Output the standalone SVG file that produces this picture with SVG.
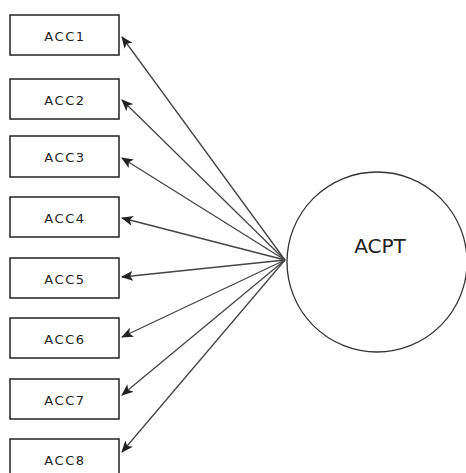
<svg xmlns="http://www.w3.org/2000/svg" width="466" height="473" viewBox="0 0 466 473">
<style>
.box{fill:#fff;stroke:#222;stroke-width:1.5}
.lbl{font-family:"DejaVu Sans",sans-serif;font-size:13px;fill:#222;text-anchor:middle;letter-spacing:1.6px}
.edge{stroke:#444;stroke-width:1.3;fill:none;marker-end:url(#ah)}
</style>
<defs>
<marker id="ah" markerWidth="12" markerHeight="10" refX="11" refY="5" orient="auto" markerUnits="userSpaceOnUse">
<path d="M0,0 L12,5 L0,10 L3,5 Z" fill="#222"/>
</marker>
</defs>
<rect width="466" height="473" fill="#fff"/>
<g id="connectors">
<line class="edge" x1="285" y1="260" x2="122" y2="37"/>
<line class="edge" x1="285" y1="260" x2="122" y2="100"/>
<line class="edge" x1="285" y1="260" x2="122" y2="158"/>
<line class="edge" x1="285" y1="260" x2="122" y2="218"/>
<line class="edge" x1="285" y1="260" x2="122" y2="277"/>
<line class="edge" x1="285" y1="260" x2="122" y2="337"/>
<line class="edge" x1="285" y1="260" x2="122" y2="395"/>
<line class="edge" x1="285" y1="260" x2="122" y2="452"/>
</g>
<g id="ACPT">
<circle cx="377" cy="262" r="90" fill="none" stroke="#333" stroke-width="1.3"/>
<text x="380" y="253" style="font-family:'DejaVu Sans',sans-serif;font-size:20px;fill:#222;text-anchor:middle">ACPT</text>
</g>
<g id="ACC1"><rect class="box" x="10" y="15" width="109" height="40"/><text class="lbl" x="65" y="41">ACC1</text></g>
<g id="ACC2"><rect class="box" x="10" y="79" width="109" height="40"/><text class="lbl" x="65" y="105">ACC2</text></g>
<g id="ACC3"><rect class="box" x="10" y="136" width="109" height="41"/><text class="lbl" x="65" y="162">ACC3</text></g>
<g id="ACC4"><rect class="box" x="10" y="197" width="109" height="40"/><text class="lbl" x="65" y="223">ACC4</text></g>
<g id="ACC5"><rect class="box" x="10" y="258" width="109" height="40"/><text class="lbl" x="65" y="284">ACC5</text></g>
<g id="ACC6"><rect class="box" x="10" y="318" width="109" height="40"/><text class="lbl" x="65" y="344">ACC6</text></g>
<g id="ACC7"><rect class="box" x="10" y="379" width="109" height="40"/><text class="lbl" x="65" y="405">ACC7</text></g>
<g id="ACC8"><rect class="box" x="10" y="439" width="109" height="40"/><text class="lbl" x="65" y="465">ACC8</text></g>
</svg>
